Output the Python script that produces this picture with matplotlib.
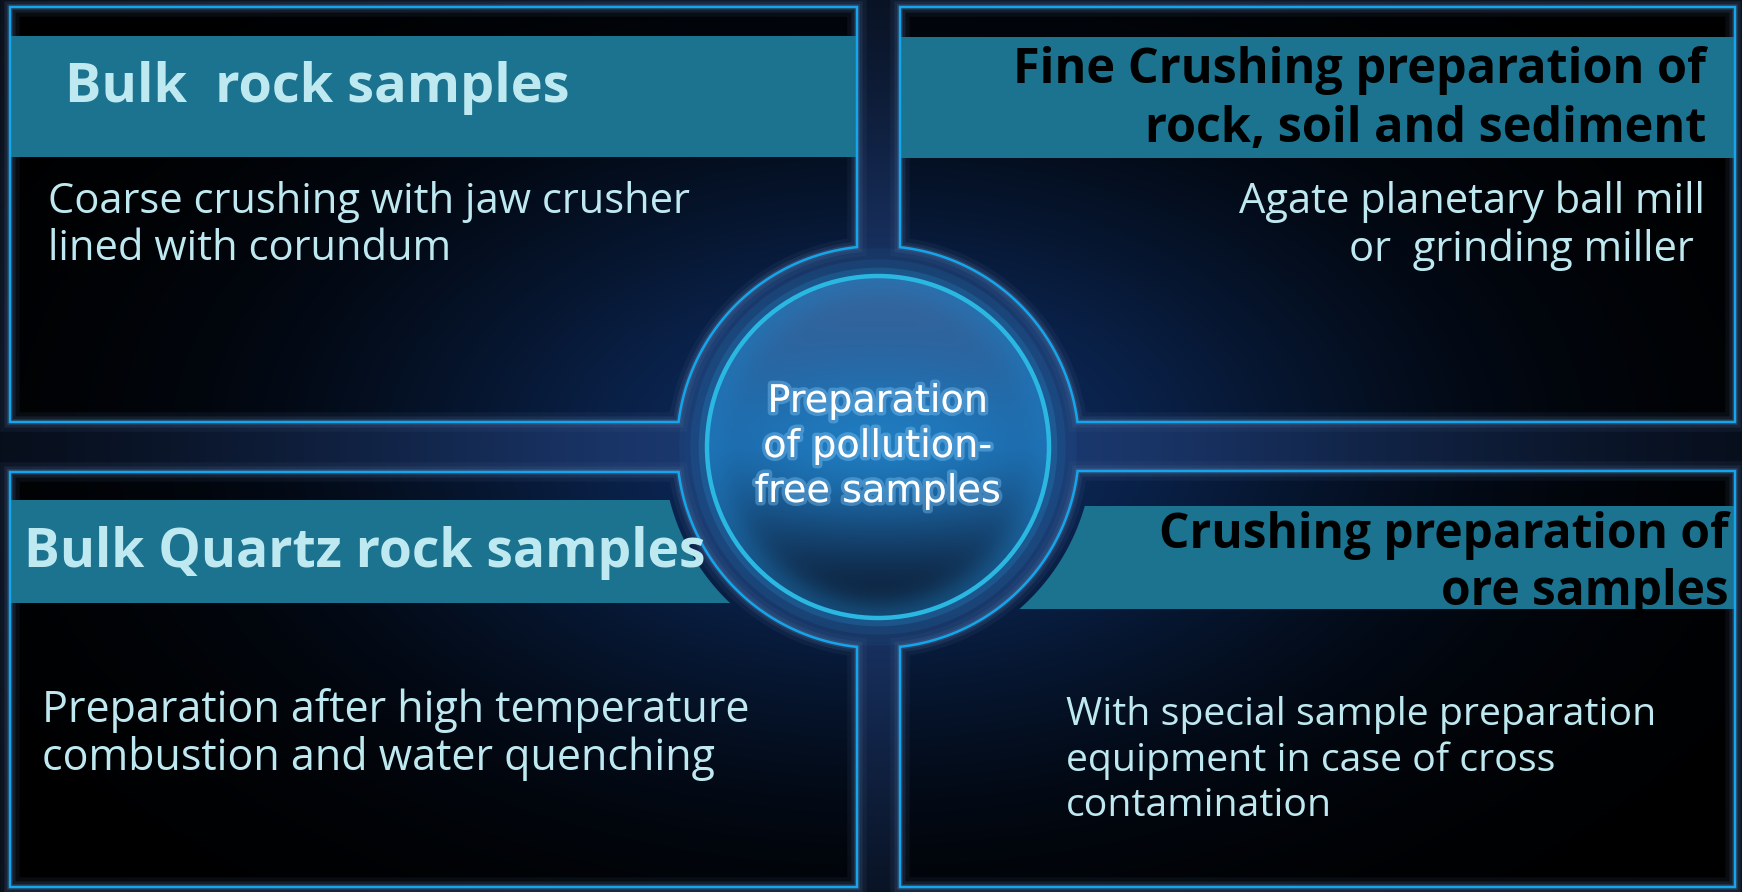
import numpy as np
import matplotlib
matplotlib.use('Agg')
import matplotlib.pyplot as plt
from matplotlib.path import Path
from matplotlib.patches import PathPatch, Circle
import matplotlib.patheffects as pe
from matplotlib.colors import to_rgb


# texts of the four panels (top-left, top-right, bottom-left, bottom-right)
titles = ['Bulk  rock samples',
          'Fine Crushing preparation of\nrock, soil and sediment',
          'Bulk Quartz rock samples',
          'Crushing preparation of\nore samples']
bodies = ['Coarse crushing with jaw crusher\nlined with corundum',
          'Agate planetary ball mill\nor  grinding miller ',
          'Preparation after high temperature\ncombustion and water quenching',
          'With special sample preparation\nequipment in case of cross\ncontamination']
center_lines = ['Preparation', 'of pollution-', 'free samples']

W, H = 1742, 892
CX, CY = 878, 447      # centre of the middle disc
R_NOTCH = 201          # notch cut into the panels
R_BAND = 215           # header bands stop here
R_RING = 171           # bright ring

CYAN = '#14a6ec'
TEAL = '#1b7390'
LIGHT = '#bfe9f1'


def panel_path(x0, x1, y0, y1):
    corners = [(x0, y0), (x1, y0), (x1, y1), (x0, y1)]
    # corner closest to the disc gets the notch
    k = int(np.argmin([(x - CX) ** 2 + (y - CY) ** 2 for x, y in corners]))
    qx, qy = corners[k]
    px, py = corners[k - 1]
    ya = CY - np.sign(CY - (y0 + y1) / 2) * np.sqrt(R_NOTCH ** 2 - (qx - CX) ** 2)
    xb = CX - np.sign(CX - (x0 + x1) / 2) * np.sqrt(R_NOTCH ** 2 - (qy - CY) ** 2)
    A = (qx, ya)   # on vertical edge
    B = (xb, qy)   # on horizontal edge
    if px == qx:
        first, last = A, B
    else:
        first, last = B, A
    t0 = np.arctan2(first[1] - CY, first[0] - CX)
    t1 = np.arctan2(last[1] - CY, last[0] - CX)
    t = np.linspace(t0, t1, 60)
    arc = list(zip(CX + R_NOTCH * np.cos(t), CY + R_NOTCH * np.sin(t)))
    verts = []
    for i, c in enumerate(corners):
        if i == k:
            verts += arc
        else:
            verts.append(c)
    verts.append(verts[0])
    return Path(verts, closed=True)


def band_path(x_out, x_in, y0, y1):
    # rectangle, cut by the circle R_BAND if it reaches it
    side = np.sign(x_in - CX)
    ys = np.linspace(y0, y1, 40)
    dx = R_BAND ** 2 - (ys - CY) ** 2
    if np.all(dx <= 0):
        verts = [(x_out, y0), (x_in, y0), (x_in, y1), (x_out, y1)]
    else:
        xs = CX + side * np.sqrt(np.clip(dx, 0, None))
        xs = np.where(side < 0, np.minimum(xs, x_in), np.maximum(xs, x_in))
        verts = [(x_out, y0)] + list(zip(xs, ys)) + [(x_out, y1)]
    verts.append(verts[0])
    return Path(verts, closed=True)


def mix(c0, c1, f):
    c0 = np.array(to_rgb(c0))
    c1 = np.array(to_rgb(c1))
    return c0 + (c1 - c0) * f[..., None]


def lines(ax, x, y, text, step, **kw):
    # one text object per line so every baseline sits where we want it
    for i, s in enumerate(text.split('\n')):
        ax.text(x, y + i * step, s, va='baseline', zorder=8, **kw)


fig = plt.figure(figsize=(W / 100, H / 100), dpi=100)
ax = fig.add_axes([0, 0, 1, 1])
ax.set_xlim(0, W)
ax.set_ylim(H, 0)
ax.axis('off')

yy, xx = np.mgrid[0:H:2, 0:W:2].astype(float)
g = np.exp(-(((xx - CX) / 560) ** 2 + ((yy - CY) / 330) ** 2))

# background between panels
bg = mix('#04070d', '#1d3d78', g ** 0.8)
ax.imshow(bg, extent=[0, W, H, 0], interpolation='bilinear', zorder=0)

# panels
panels = [(10, 857, 7, 422), (900, 1735, 7, 422),
          (10, 857, 472, 887), (900, 1735, 471, 887)]
inside = mix('#000000', '#0d2c60', g ** 1.3)
for x0, x1, y0, y1 in panels:
    p = panel_path(x0, x1, y0, y1)
    im = ax.imshow(inside, extent=[0, W, H, 0], interpolation='bilinear', zorder=1)
    patch = PathPatch(p, facecolor='none', edgecolor='none')
    ax.add_patch(patch)
    im.set_clip_path(patch)
    for lw, a in [(14, 0.10), (8, 0.18), (4, 0.3)]:
        ax.add_patch(PathPatch(p, facecolor='none', edgecolor='#4f6f9a', lw=lw, alpha=a, zorder=2))
    ax.add_patch(PathPatch(p, facecolor='none', edgecolor=CYAN, lw=1.8, zorder=4))

# header bands
bands = [(10, 857, 36, 157), (1735, 900, 37, 158),
         (10, 857, 500, 603), (1735, 900, 506, 609)]
for x_out, x_in, y0, y1 in bands:
    ax.add_patch(PathPatch(band_path(x_out, x_in, y0, y1), facecolor=TEAL,
                           edgecolor='none', zorder=3))

# middle disc
for lw, a in [(40, 0.06), (24, 0.1), (12, 0.18)]:
    ax.add_patch(Circle((CX, CY), R_RING, facecolor='none', edgecolor='#2aa8e6',
                        lw=lw, alpha=a, zorder=5))

t = np.clip((yy - (CY - R_RING)) / (2 * R_RING), 0, 1)
disc = np.where(t[..., None] < 0.5,
                mix('#3a6398', '#1c5e9e', t * 2),
                mix('#1c5e9e', '#0a1528', t * 2 - 1))
blob = np.exp(-(((xx - CX) / 170) ** 2 + ((yy - CY + 5) / 75) ** 2))
disc = disc + (np.array(to_rgb('#1f82c6')) - disc) * (blob[..., None] * 0.8)
edge = np.sqrt((xx - CX) ** 2 + (yy - CY) ** 2)
rim = np.exp(-((edge - R_RING) / 22) ** 2)
disc = disc + (np.array(to_rgb('#1e7cc0')) - disc) * (rim[..., None] * 0.5)
im = ax.imshow(np.clip(disc, 0, 1), extent=[0, W, H, 0], interpolation='bilinear', zorder=6)
clip = Circle((CX, CY), R_RING, facecolor='none', edgecolor='none')
ax.add_patch(clip)
im.set_clip_path(clip)
ax.add_patch(Circle((CX, CY), R_RING, facecolor='none', edgecolor='#2ab8e2', lw=3.2, zorder=7))

# centre text
glow = [pe.withStroke(linewidth=5, foreground='#8fd0ff', alpha=0.35)]
lines(ax, CX, 412, '\n'.join(center_lines), 45, ha='center', color='white',
      fontsize=27.5, family='DejaVu Sans', path_effects=glow)

# titles
lines(ax, 65, 102, titles[0], 0, ha='left', color=LIGHT,
      fontsize=39, fontweight='bold', family='Open Sans')
lines(ax, 1706, 83, titles[1], 59, ha='right', color='black',
      fontsize=35, fontweight='bold', family='Open Sans')
lines(ax, 24, 567, titles[2], 0, ha='left', color=LIGHT,
      fontsize=38.5, fontweight='bold', family='Open Sans')
lines(ax, 1729, 548, titles[3], 57, ha='right', color='black',
      fontsize=34.5, fontweight='bold', family='Open Sans')

# body texts
lines(ax, 48, 213, bodies[0], 47, ha='left', color=LIGHT,
      fontsize=30, family='Open Sans')
lines(ax, 1705, 213, bodies[1], 48, ha='right', color=LIGHT,
      fontsize=30, family='Open Sans')
lines(ax, 42, 722, bodies[2], 48, ha='left', color=LIGHT,
      fontsize=31, family='Open Sans')
lines(ax, 1066, 725, bodies[3], 45.5, ha='left', color=LIGHT,
      fontsize=28.3, family='Open Sans')

fig.savefig('out.png', dpi=100, facecolor='black')
